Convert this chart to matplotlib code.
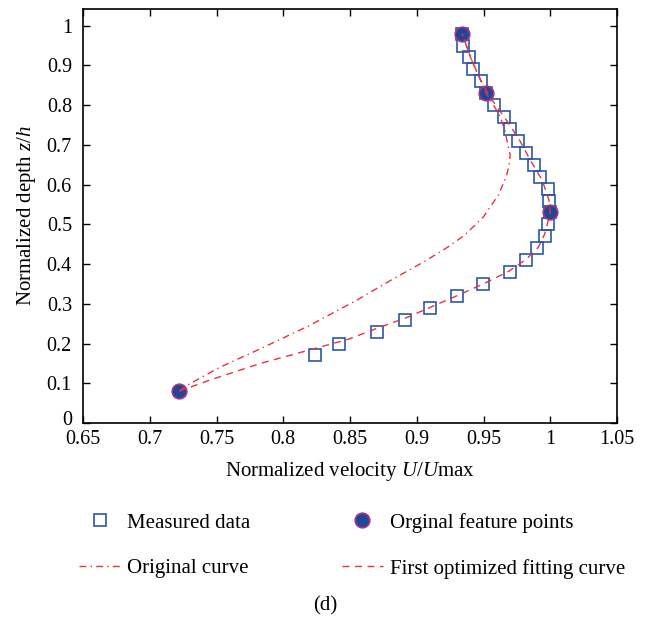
import numpy as np
import matplotlib.pyplot as plt
import matplotlib.transforms as mtransforms
from matplotlib.lines import Line2D

plt.rcParams['font.family'] = ['Liberation Serif', 'DejaVu Serif']
plt.rcParams['mathtext.fontset'] = 'custom'
plt.rcParams['mathtext.it'] = 'Liberation Serif:italic'
plt.rcParams['mathtext.rm'] = 'Liberation Serif'

# measured velocity profile
meas_u = [0.824, 0.842, 0.870, 0.891, 0.910, 0.930, 0.950, 0.970, 0.982, 0.990,
          0.996, 0.998, 1.000, 0.999, 0.998, 0.992, 0.988, 0.982, 0.976, 0.970,
          0.965, 0.958, 0.952, 0.948, 0.942, 0.939, 0.935, 0.934]
meas_z = [0.17, 0.20, 0.23, 0.26, 0.29, 0.32, 0.35, 0.38, 0.41, 0.44,
          0.47, 0.50, 0.53, 0.56, 0.59, 0.62, 0.65, 0.68, 0.71, 0.74,
          0.77, 0.80, 0.83, 0.86, 0.89, 0.92, 0.95, 0.98]

# feature points
feat_u = [0.722, 1.000, 0.952, 0.934]
feat_z = [0.08, 0.53, 0.83, 0.98]

# original curve
orig_u = [0.722, 0.728, 0.753, 0.783, 0.820, 0.855, 0.882, 0.905, 0.922, 0.936,
          0.950, 0.961, 0.967, 0.969, 0.970, 0.968, 0.966, 0.962, 0.952, 0.941, 0.934]
orig_z = [0.08, 0.095, 0.141, 0.187, 0.246, 0.309, 0.362, 0.405, 0.440, 0.473,
          0.519, 0.573, 0.620, 0.645, 0.674, 0.704, 0.737, 0.775, 0.830, 0.914, 0.98]

# first optimized fitting curve
fit_u = [0.722, 0.745, 0.783, 0.823, 0.848, 0.870, 0.893, 0.912, 0.932, 0.951,
         0.969, 0.982, 0.991, 0.996, 1.000, 0.999, 0.994, 0.985, 0.977, 0.968,
         0.960, 0.954, 0.948, 0.941, 0.935, 0.934]
fit_z = [0.08, 0.108, 0.150, 0.187, 0.210, 0.238, 0.266, 0.294, 0.323, 0.352,
         0.382, 0.412, 0.442, 0.477, 0.53, 0.561, 0.611, 0.662, 0.712, 0.758,
         0.796, 0.825, 0.863, 0.914, 0.970, 0.98]

blue = '#2b56a8'
dark_blue = '#1f4796'
magenta = '#a8328c'
red = '#e8323c'
fs = 15

fig = plt.figure(figsize=(6.51, 6.19), dpi=100)
ax = fig.add_axes([83 / 651, 1 - 423 / 619, 534 / 651, 414 / 619])

ax.plot(meas_u, meas_z, 's', ms=9, mfc='none', mec=blue, mew=1.2)
ax.plot(feat_u, feat_z, 'o', ms=10.5, mfc=dark_blue, mec=magenta, mew=1.2)
ax.plot(orig_u, orig_z, '-.', color=red, lw=1.0, dashes=(5, 3, 1, 3))
ax.plot(fit_u, fit_z, '--', color=red, lw=1.0, dashes=(5, 4))

ax.set_xlim(0.65, 1.05)
ax.set_ylim(0, 1.042)
ax.set_xticks(np.arange(0.65, 1.051, 0.05))
ax.set_xticklabels(['0.65', '0.7', '0.75', '0.8', '0.85', '0.9', '0.95', '1', '1.05'])
ax.set_yticks(np.arange(0, 1.01, 0.1))
ax.set_yticklabels(['0', '0.1', '0.2', '0.3', '0.4', '0.5', '0.6', '0.7', '0.8', '0.9', '1'])
ax.tick_params(direction='in', top=True, right=True, labelsize=14.5, length=5, width=1)
ax.tick_params(axis='y', pad=8)
ax.tick_params(axis='x', pad=5)
for s in ax.spines.values():
    s.set_linewidth(1.2)
ax.set_xlabel(r'Normalized velocity $U/U$max', fontsize=fs, labelpad=8)
ax.set_ylabel(r'Normalized depth $z/h$', fontsize=fs, labelpad=6)

# lift the "0" on the y axis a little so it clears "0.65"
zero_lbl = ax.get_yticklabels()[0]
zero_lbl.set_transform(zero_lbl.get_transform() +
                       mtransforms.ScaledTranslation(0, 5 / 100, fig.dpi_scale_trans))

handles = [
    Line2D([], [], ls='none', marker='s', ms=8, mfc='none', mec=blue, mew=1.2),
    Line2D([], [], ls='-.', color=red, lw=1.0, dashes=(5, 3, 1, 3)),
    Line2D([], [], ls='none', marker='o', ms=10.5, mfc=dark_blue, mec=magenta, mew=1.2),
    Line2D([], [], ls='--', color=red, lw=1.0, dashes=(5, 4)),
]
labels = ['Measured data', 'Original curve', 'Orginal feature points', 'First optimized fitting curve']
fig.legend(handles, labels, loc='upper left', bbox_to_anchor=(60 / 651, 1 - 494 / 619),
           ncol=2, frameon=False, fontsize=fs, handlelength=2.0, handletextpad=0.3,
           columnspacing=4.4, labelspacing=1.25)

fig.text(325 / 651, 1 - 606 / 619, '(d)', ha='center', va='center', fontsize=fs)

fig.savefig('out.png', dpi=100)
